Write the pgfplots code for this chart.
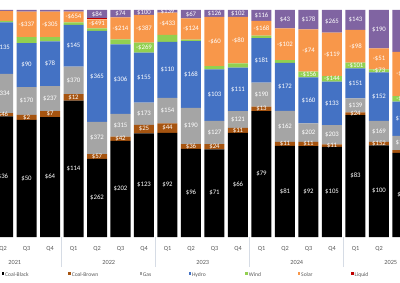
\documentclass[border=0pt]{standalone}
\usepackage{pgfplots}
\usepackage{pgfplotstable}
\usepackage{fontspec}
\setmainfont{Carlito}
\pgfplotsset{compat=1.18}

\definecolor{cBlack}{HTML}{000000}
\definecolor{cBrown}{HTML}{A65410}
\definecolor{cGas}{HTML}{A5A5A5}
\definecolor{cHydro}{HTML}{4472C4}
\definecolor{cWind}{HTML}{92D050}
\definecolor{cSolar}{HTML}{F8974A}
\definecolor{cLiquid}{HTML}{C00000}
\definecolor{cOther}{HTML}{8064A2}
\definecolor{tickgray}{HTML}{595959}
\definecolor{sepgray}{HTML}{D6DCE5}

% Quarterly generation mix (share of output, %) and the $/MWh figure shown on each segment
\pgfplotstableread{
i  bk   br  gs   hy   wd  so   lq  ot    Lbk     Lbr     Lgs     Lhy     Lwd      Lso      Lot
1  53.1 1.5 17.3 22.6 0.7 4.4  0   0.4   \$36    \$46    \$334   \$135   {}       {}       {}
2  51.6 2.2 12.2 19.4 2.6 11.3 0   0.7   \$50    \$2     \$170   \$90    {}       -\$337   {}
3  52.8 2.6 11.1 19.7 1.8 11.3 0   0.7   \$64    \$7     \$237   \$78    {}       -\$305   {}
4  60.1 2.8 12.2 18.4 1.0 4.8  0   0.7   \$114   \$12    \$370   \$145   {}       -\$654   {}
5  34.4 2.1 14.2 40.1 1.1 4.0  0.4 3.7   \$262   \$57    \$372   \$365   {}       -\$491   \$84
6  42.3 1.9 10.0 30.7 2.2 9.7  0   3.2   \$202   \$42    \$315   \$306   {}       -\$214   \$74
7  45.7 3.7 9.8  22.0 4.4 12.3 0   2.1   \$123   \$25    \$173   \$155   -\$269   -\$387   \$100
8  45.9 4.1 11.3 24.7 3.0 9.8  0   1.2   \$92    \$44    \$154   \$110   {}       -\$433   \$139
9  38.8 2.1 16.0 29.4 0.7 9.3  0   3.7   \$96    \$36    \$190   \$168   {}       -\$124   \$67
10 38.6 2.3 10.3 22.6 1.5 21.7 0   3.0   \$71    \$24    \$127   \$103   {}       -\$60    \$126
11 45.9 2.2 7.4  19.1 1.9 20.5 0   3.0   \$66    \$11    \$121   \$111   {}       -\$80    \$102
12 55.5 1.9 10.6 19.6 1.1 6.5  0   4.8   \$79    \$13    \$190   \$181   {}       -\$168   \$116
13 40.1 1.8 13.7 21.1 1.2 14.0 0   8.1   \$81    \$11    \$162   \$172   {}       -\$102   \$43
14 40.0 1.9 8.1  20.3 2.5 18.7 0   8.5   \$92    \$11    \$202   \$160   -\$156   -\$74    \$178
15 39.7 1.1 8.5  19.1 2.5 19.1 0   10.0  \$105   \$11    \$203   \$133   -\$144   -\$119   \$265
16 53.7 1.2 6.2  13.2 2.5 14.4 0   8.8   \$83    \$24    \$139   \$151   -\$101   -\$98    \$143
17 40.4 1.5 9.3  21.3 1.3 9.3  0   16.9  \$100   \$152   \$169   \$152   -\$73    -\$51    \$190
18 37.1 1.2 6.2  15.1 2.5 19.5 0   18.4  \$95    {}      \$171   \$148   -\$88    -\$63    {}
}\mixtable

\pgfplotsset{
  seg/.style={draw=none, fill=#1,
    legend image code/.code={\fill[fill=#1] (0bp,0.4bp) rectangle (2.4bp,2.8bp); \path (3.4bp,0);}},
  frame/.style={at={(0bp,46bp)}, anchor=south west, scale only axis,
    width=400bp, height=227bp, xmin=0.8723, xmax=17.894, ymin=0, ymax=100},
}
\tikzset{yearlab/.style={font=\fontsize{6.3bp}{7bp}\selectfont, text=tickgray, anchor=center, yshift=-25.5bp}}

\begin{document}
\begin{tikzpicture}
\path[use as bounding box] (0,0) rectangle (400bp,283bp);
\clip (0,0) rectangle (400bp,273bp);

% stacked shares
\begin{axis}[frame,
  ybar stacked, bar width=20bp,
  axis y line=none,
  axis x line*=bottom,
  x axis line style={draw=none},
  xtick={1,...,18},
  xticklabels={Q2,Q3,Q4,Q1,Q2,Q3,Q4,Q1,Q2,Q3,Q4,Q1,Q2,Q3,Q4,Q1,Q2,Q3},
  major tick length=0pt,
  xtick pos=left,
  xticklabel style={font=\fontsize{6.3bp}{7bp}\selectfont, text=tickgray,
    anchor=center, yshift=-12bp, inner sep=0pt},
  extra x ticks={3.5,7.5,11.5,15.5},
  extra x tick labels={},
  extra x tick style={major tick length=30bp, tick align=outside,
    tick style={draw=sepgray, line width=0.6bp}},
  clip=false,
  legend columns=-1,
  legend cell align=left,
  legend style={at={(rel axis cs:0,0)}, anchor=west, xshift=1.7bp, yshift=-38bp,
    draw=none, fill=none, inner sep=0pt, outer sep=0pt,
    font=\fontsize{5.6bp}{6bp}\selectfont, text=tickgray,
    nodes={inner sep=0pt}},
]
\addplot[seg=cBlack]  table[x=i, y=bk] {\mixtable};
\addplot[seg=cBrown]  table[x=i, y=br] {\mixtable};
\addplot[seg=cGas]    table[x=i, y=gs] {\mixtable};
\addplot[seg=cHydro]  table[x=i, y=hy] {\mixtable};
\addplot[seg=cWind]   table[x=i, y=wd] {\mixtable};
\addplot[seg=cSolar]  table[x=i, y=so] {\mixtable};
\addplot[seg=cLiquid] table[x=i, y=lq] {\mixtable};
\addplot[seg=cOther]  table[x=i, y=ot] {\mixtable};
\legend{\makebox[63.3bp][l]{Coal-Black},\makebox[67.7bp][l]{Coal-Brown},
  \makebox[45.7bp][l]{Gas},\makebox[53.4bp][l]{Hydro},\makebox[49bp][l]{Wind},
  \makebox[50.1bp][l]{Solar},\makebox[30bp][l]{Liquid}}
\node[yearlab] at (axis cs:1.5,0) {2021};
\node[yearlab] at (axis cs:5.5,0) {2022};
\node[yearlab] at (axis cs:9.5,0) {2023};
\node[yearlab] at (axis cs:13.5,0) {2024};
\node[yearlab] at (axis cs:17.5,0) {2025};
\end{axis}

% value labels, centred on each segment
\begin{axis}[frame, hide axis, clip=false,
  nodes near coords, point meta=explicit symbolic,
  every node near coord/.append style={anchor=center, inner sep=0pt, text=white,
    font=\fontsize{6.8bp}{7bp}\selectfont},
]
\addplot[draw=none] table[x=i, y expr=\thisrow{bk}/2, meta=Lbk] {\mixtable};
\addplot[draw=none] table[x=i, y expr=\thisrow{bk}+\thisrow{br}/2, meta=Lbr] {\mixtable};
\addplot[draw=none] table[x=i, y expr=\thisrow{bk}+\thisrow{br}+\thisrow{gs}/2, meta=Lgs] {\mixtable};
\addplot[draw=none] table[x=i, y expr=\thisrow{bk}+\thisrow{br}+\thisrow{gs}+\thisrow{hy}/2, meta=Lhy] {\mixtable};
\addplot[draw=none] table[x=i, y expr=\thisrow{bk}+\thisrow{br}+\thisrow{gs}+\thisrow{hy}+\thisrow{wd}/2, meta=Lwd] {\mixtable};
\addplot[draw=none] table[x=i, y expr=\thisrow{bk}+\thisrow{br}+\thisrow{gs}+\thisrow{hy}+\thisrow{wd}+\thisrow{so}/2, meta=Lso] {\mixtable};
\addplot[draw=none] table[x=i, y expr=100-\thisrow{ot}/2, meta=Lot] {\mixtable};
\end{axis}
\end{tikzpicture}
\end{document}
